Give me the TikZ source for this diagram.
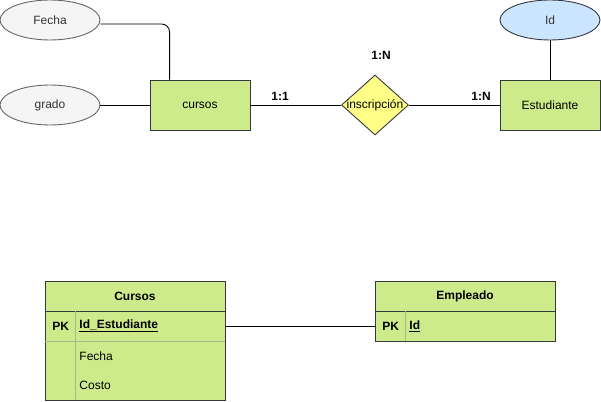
\documentclass[tikz,border=0pt]{standalone}
\usepackage{fontspec}
\setmainfont{Liberation Sans}
\usetikzlibrary{positioning, shapes.geometric}
\definecolor{leaf}{HTML}{CDEB8B}
\definecolor{ink}{HTML}{36393D}
\definecolor{ash}{HTML}{F5F5F5}
\definecolor{smoke}{HTML}{666666}
\definecolor{graphite}{HTML}{333333}
\definecolor{lemon}{HTML}{FFFF88}
\definecolor{sky}{HTML}{CCE5FF}
\definecolor{seam}{HTML}{A7B98A}

\tikzset{
  attr/.style={ellipse, draw=smoke, fill=ash, text=graphite, minimum width=100pt, minimum height=40pt, inner sep=0pt},
  keyattr/.style={ellipse, draw=ink, fill=sky, text=graphite, minimum width=100pt, minimum height=40pt, inner sep=0pt},
  entity/.style={rectangle, draw=ink, fill=leaf, minimum width=100pt, minimum height=50pt, inner sep=0pt},
  rel/.style={diamond, draw=ink, fill=lemon, minimum width=67pt, minimum height=60pt, inner sep=0pt},
  card/.style={font=\fontsize{12}{14}\selectfont\bfseries, inner sep=0pt},
  tabhead/.style={rectangle, draw=ink, fill=leaf, minimum width=180pt, minimum height=30pt, inner sep=0pt, font=\fontsize{12}{14}\selectfont\bfseries},
  tabbody/.style={rectangle, draw=ink, fill=leaf, minimum width=180pt, inner sep=0pt},
  field/.style={anchor=west, inner sep=0pt},
  seamline/.style={draw=seam}
}

\begin{document}
\begin{tikzpicture}[x=1pt, y=-1pt, font=\fontsize{12}{14}\selectfont, line width=0.9pt]
        \useasboundingbox (0,0) rectangle (601,401);
        % Modelo entidad-relacion
        \node[attr] (fecha) at (50,20) {Fecha};
        \node[attr] (grado) at (50,105) {grado};
        \node[entity] (cursos) at (200,105) {cursos};
        \node[rel, label={center:inscripción}] (inscr) at (375,105) {};
        \node[entity] (estud) at (550,105) {Estudiante};
        \node[keyattr] (id) at (550,20) {Id};
        \draw[rounded corners=8pt] ([yshift=-4pt]fecha.east) -| ([xshift=20pt]cursos.north west);
        \draw (grado) -- (cursos);
        \draw (cursos) -- (inscr);
        \draw (inscr) -- (estud);
        \draw (id) -- (estud);
        \node[card] (c11) at (280,96) {1:1};
        \node[card] (c1n) at (381,55) {1:N};
        \node[card] (c1nb) at (481,96) {1:N};
        % Tabla Cursos
        \node[tabhead] (cursosh) at (135,296) {Cursos};
        \node[tabbody, minimum height=89pt, below=0pt of cursosh] (cursosb) {};
        \draw[seamline] (75,311) -- (75,400);
        \draw[seamline] (45,341) -- (225,341);
        \node[field] (cpk) at (52,326) {\textbf{PK}};
        \node[field] (cidest) at (79,326) {\textbf{\underline{Id\_Estudiante}}};
        \node[field] (cfecha) at (79,356) {Fecha};
        \node[field] (ccosto) at (79,385) {Costo};
        % Tabla Empleado
        \node[tabhead] (emph) at (465,296) {Empleado};
        \node[tabbody, minimum height=30pt, below=0pt of emph] (empb) {};
        \draw[seamline] (405,311) -- (405,341);
        \node[field] (epk) at (382,326) {\textbf{PK}};
        \node[field] (eid) at (409,326) {\textbf{\underline{Id}}};
        \draw (cursosb.east |- empb.west) -- (empb.west);
      \end{tikzpicture}
\end{document}
